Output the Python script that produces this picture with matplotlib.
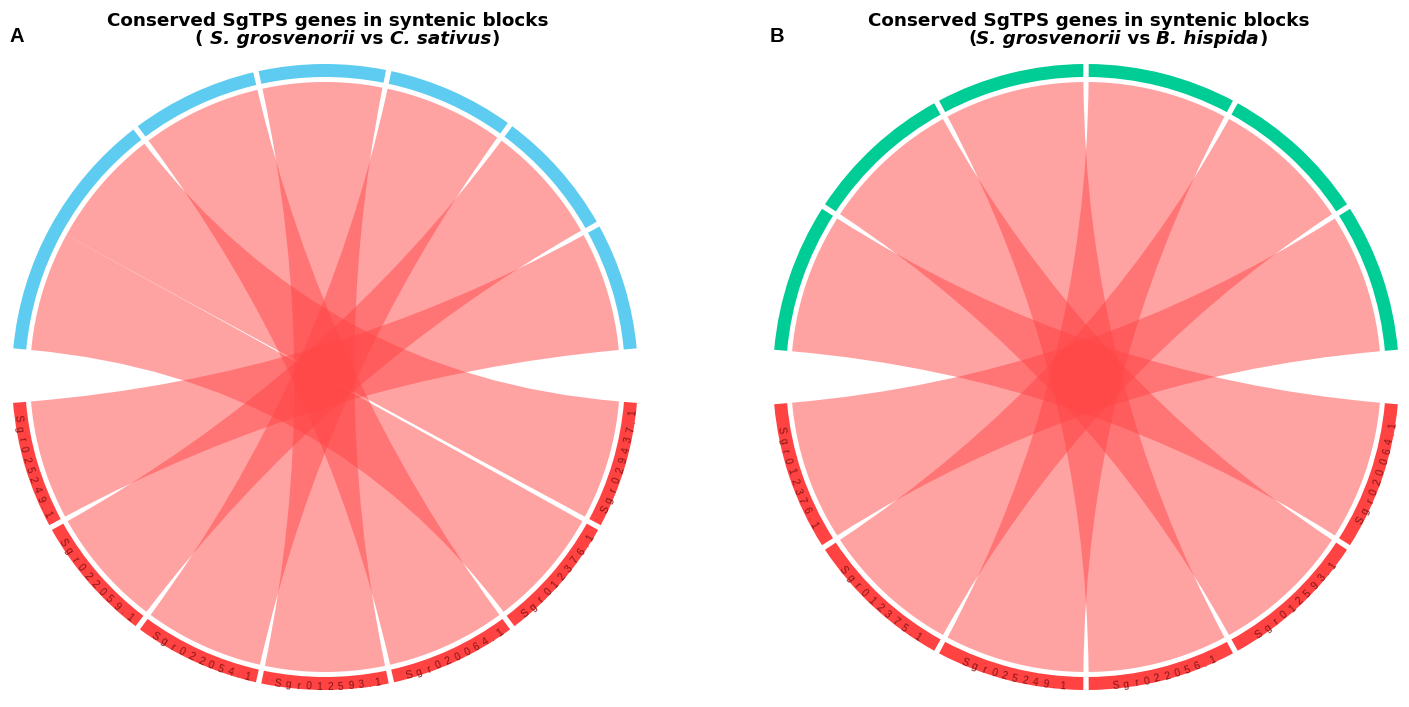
import numpy as np
import matplotlib
matplotlib.use("Agg")
import matplotlib.pyplot as plt
from matplotlib.patches import Wedge, PathPatch
from matplotlib.path import Path
from matplotlib.offsetbox import TextArea, HPacker, AnnotationBbox

W, H = 1409, 707
FONT = ['Liberation Sans', 'DejaVu Sans']
TFONT = ['DejaVu Sans']

# ---------------- data ----------------
# panel A : S. grosvenorii genes (bottom, left -> right) vs C. sativus blocks (top, left -> right)
a_genes = ['Sgr025249.1', 'Sgr022059.1', 'Sgr022054.1', 'Sgr012593.1',
           'Sgr020064.1', 'Sgr012376.1', 'Sgr029437.1']
a_blocks = ['Cs1', 'Cs2', 'Cs3', 'Cs4', 'Cs5', 'Cs6']
a_links = [('Cs1', 'Sgr012376.1'), ('Cs1', 'Sgr029437.1'), ('Cs2', 'Sgr020064.1'),
           ('Cs3', 'Sgr012593.1'), ('Cs4', 'Sgr022054.1'), ('Cs5', 'Sgr022059.1'),
           ('Cs6', 'Sgr025249.1')]

# panel B : S. grosvenorii genes vs B. hispida blocks
b_genes = ['Sgr012376.1', 'Sgr012375.1', 'Sgr025249.1', 'Sgr022056.1',
           'Sgr012593.1', 'Sgr020064.1']
b_blocks = ['Bh1', 'Bh2', 'Bh3', 'Bh4', 'Bh5', 'Bh6']
b_links = [('Bh1', 'Sgr020064.1'), ('Bh2', 'Sgr012593.1'), ('Bh3', 'Sgr022056.1'),
           ('Bh4', 'Sgr025249.1'), ('Bh5', 'Sgr012375.1'), ('Bh6', 'Sgr012376.1')]

# ---------------- geometry ----------------
R_OUT, R_IN, R_LINK, R_TXT = 313, 300, 295, 310
GAP, BIG_GAP = 1.0, 10.0
RIBBON = (1.0, 0.28, 0.28, 0.5)
RED_TRACK = '#FF4242'
TXT_COL = '#8a1515'


def pol(cx, cy, r, a):
    t = np.deg2rad(a)
    return cx + r * np.cos(t), cy + r * np.sin(t)


def arc(cx, cy, r, a0, a1, n=60):
    t = np.deg2rad(np.linspace(a0, a1, n))
    return np.column_stack([cx + r * np.cos(t), cy + r * np.sin(t)])


def chord(ax, cx, cy, blocks, genes, links, top_col):
    counts = [sum(1 for l in links if l[0] == b) for b in blocks]
    n_sec = len(blocks) + len(genes)
    unit = (360 - (n_sec - 2) * GAP - 2 * BIG_GAP) / (sum(counts) + len(genes))

    # top group: clockwise from the left
    span = sum(counts) * unit + (len(blocks) - 1) * GAP
    top = {}
    a = 90 + span / 2
    for b, c in zip(blocks, counts):
        top[b] = (a, a - c * unit)
        a -= c * unit + GAP
    # bottom group: left -> right
    span = len(genes) * unit + (len(genes) - 1) * GAP
    bot = {}
    a = 270 - span / 2
    for g in genes:
        bot[g] = (a, a + unit)
        a += unit + GAP

    for b, (a0, a1) in top.items():
        ax.add_patch(Wedge((cx, cy), R_OUT, a1, a0, width=R_OUT - R_IN,
                           facecolor=top_col, edgecolor='none'))
    for g, (a0, a1) in bot.items():
        ax.add_patch(Wedge((cx, cy), R_OUT, a0, a1, width=R_OUT - R_IN,
                           facecolor=RED_TRACK, edgecolor='none'))
        # gene name, one character at a time along the track
        step = [1.1 if ch == '.' else 1.95 for ch in g]
        pos = np.cumsum(step) - np.array(step) / 2
        mid = (a0 + a1) / 2 - pos[-1] / 2
        for ch, p in zip(g, pos):
            ang = mid + p
            x, y = pol(cx, cy, R_TXT, ang)
            ax.text(x, y, ch, fontsize=7.6, color=TXT_COL, family=FONT,
                    rotation=ang + 90, rotation_mode='anchor',
                    ha='center', va='center')

    used = {b: 0 for b in blocks}
    for b, g in links:
        a0 = top[b][0] - used[b] * unit
        used[b] += 1
        t_hi, t_lo = a0, a0 - unit
        b_lo, b_hi = bot[g]
        verts = list(arc(cx, cy, R_LINK, t_lo, t_hi))
        codes = [Path.MOVETO] + [Path.LINETO] * (len(verts) - 1)
        verts += [(cx, cy), pol(cx, cy, R_LINK, b_lo)]
        codes += [Path.CURVE3, Path.CURVE3]
        bo = arc(cx, cy, R_LINK, b_lo, b_hi)[1:]
        verts += list(bo)
        codes += [Path.LINETO] * len(bo)
        verts += [(cx, cy), pol(cx, cy, R_LINK, t_lo)]
        codes += [Path.CURVE3, Path.CURVE3]
        verts.append(verts[0])
        codes.append(Path.CLOSEPOLY)
        ax.add_patch(PathPatch(Path(verts, codes), facecolor=RIBBON,
                               edgecolor='none', lw=0))


def title(ax, x_letter, letter, x1, x2, sp1, sp2, lead):
    ax.text(x_letter, H - 36, letter, fontsize=14.5, fontweight='bold',
            family=FONT, ha='left', va='center')
    ax.text(x1, H - 26, 'Conserved SgTPS genes in syntenic blocks', fontsize=13.2,
            fontweight='bold', family=TFONT, ha='left', va='baseline')
    norm = dict(fontsize=13.2, fontweight='bold', family=TFONT)
    ital = dict(fontsize=13.2, fontweight='bold', fontstyle='italic', family=TFONT)
    parts = [TextArea(lead, textprops=norm), TextArea(sp1, textprops=ital),
             TextArea(' vs ', textprops=norm), TextArea(sp2, textprops=ital),
             TextArea(')', textprops=norm)]
    box = HPacker(children=parts, align='baseline', pad=0, sep=0)
    ab = AnnotationBbox(box, (x2, H - 39), xycoords='data', frameon=False,
                        box_alignment=(0, 0.5), pad=0)
    ax.add_artist(ab)


fig = plt.figure(figsize=(W / 100, H / 100), dpi=100)
ax = fig.add_axes([0, 0, 1, 1])
ax.set_xlim(0, W)
ax.set_ylim(0, H)
ax.axis('off')

chord(ax, 325, H - 377, a_blocks, a_genes, a_links, '#5ECCF0')
chord(ax, 1086, H - 377, b_blocks, b_genes, b_links, '#00CC96')

title(ax, 10, 'A', 107, 195, 'S. grosvenorii', 'C. sativus', '( ')
title(ax, 770, 'B', 868, 968, 'S. grosvenorii', 'B. hispida', '(')

fig.savefig('out.png', dpi=100)
